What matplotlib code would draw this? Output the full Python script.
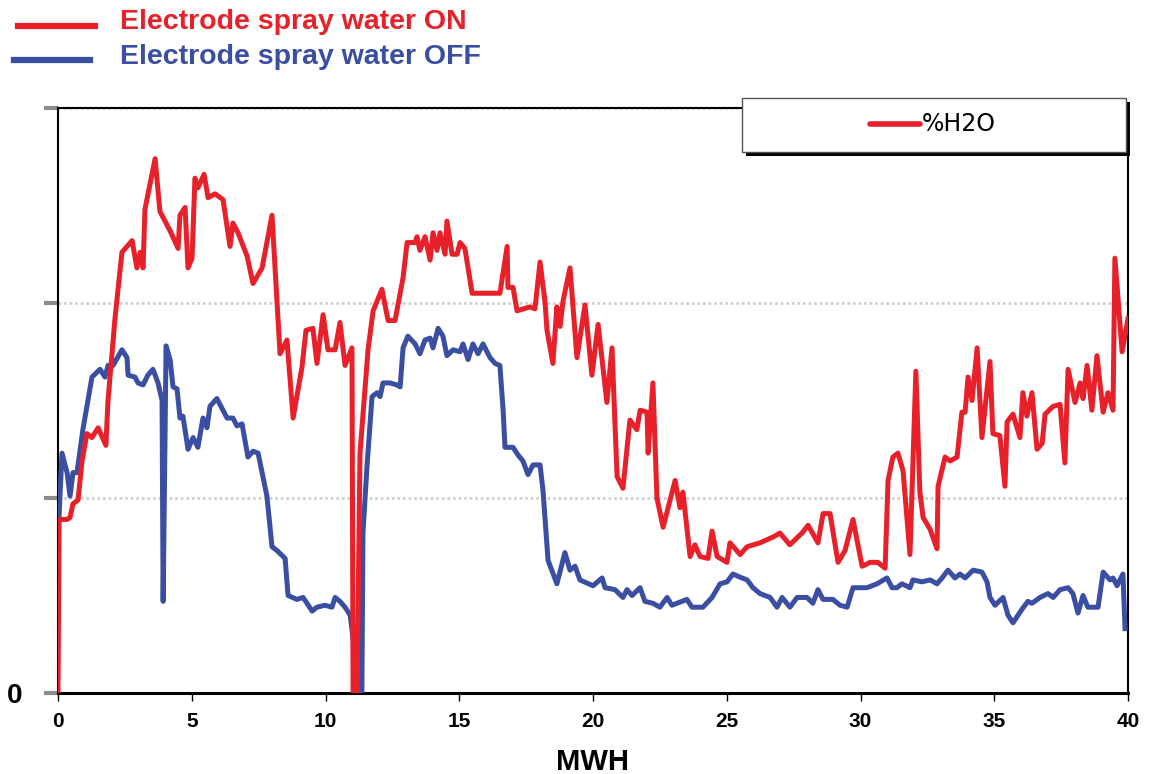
import matplotlib
matplotlib.use("Agg")
import matplotlib.pyplot as plt
from matplotlib.lines import Line2D
from matplotlib.patches import Rectangle

plt.rcParams['font.family'] = ['Liberation Sans', 'DejaVu Sans']

# spray water ON (red)
on_mwh = [0, 0.04, 0.34, 0.45, 0.56, 0.75, 0.90, 1.08, 1.27, 1.50,
          1.79, 1.87, 2.13, 2.39, 2.77, 2.95, 3.07, 3.18, 3.25, 3.63,
          3.81, 4.19, 4.49, 4.56, 4.75, 4.86, 5.01, 5.12, 5.23, 5.46,
          5.61, 5.87, 6.17, 6.43, 6.54, 6.73, 7.07, 7.29, 7.63, 8.00,
          8.30, 8.56, 8.79, 9.12, 9.27, 9.53, 9.68, 9.91, 10.09, 10.36,
          10.54, 10.73, 10.99, 11.03, 11.18, 11.29, 11.59, 11.78, 12.11, 12.34,
          12.60, 12.90, 13.05, 13.35, 13.42, 13.53, 13.72, 13.91, 14.02, 14.17,
          14.28, 14.47, 14.54, 14.73, 14.92, 15.03, 15.21, 15.33, 15.48, 16.52,
          16.79, 16.82, 17.01, 17.16, 17.64, 17.83, 18.02, 18.21, 18.28, 18.50,
          18.65, 18.77, 18.88, 19.14, 19.40, 19.70, 19.96, 20.19, 20.52, 20.71,
          20.90, 21.12, 21.38, 21.64, 21.76, 22.02, 22.06, 22.24, 22.39, 22.62,
          23.07, 23.25, 23.36, 23.63, 23.81, 24.00, 24.30, 24.45, 24.64, 25.01,
          25.12, 25.50, 25.76, 26.24, 26.73, 26.99, 27.36, 27.81, 28.04, 28.41,
          28.60, 28.86, 29.16, 29.42, 29.72, 30.06, 30.36, 30.65, 30.92, 31.03,
          31.21, 31.40, 31.59, 31.85, 32.07, 32.22, 32.34, 32.60, 32.86, 32.90,
          33.16, 33.35, 33.61, 33.79, 33.91, 34.02, 34.17, 34.36, 34.54, 34.84,
          34.95, 35.21, 35.40, 35.48, 35.70, 35.96, 36.07, 36.22, 36.41, 36.60,
          36.79, 36.90, 37.20, 37.46, 37.64, 37.76, 38.02, 38.21, 38.32, 38.47,
          38.65, 38.84, 39.07, 39.25, 39.44, 39.51, 39.78, 40.00]
on_h2o = [0, 0.89, 0.89, 0.90, 0.97, 0.99, 1.19, 1.33, 1.31, 1.36,
          1.27, 1.50, 1.92, 2.26, 2.32, 2.18, 2.26, 2.18, 2.48, 2.74,
          2.47, 2.37, 2.28, 2.45, 2.49, 2.18, 2.23, 2.64, 2.59, 2.66,
          2.54, 2.56, 2.53, 2.29, 2.41, 2.36, 2.24, 2.10, 2.18, 2.45,
          1.74, 1.81, 1.41, 1.67, 1.86, 1.87, 1.69, 1.94, 1.76, 1.76,
          1.90, 1.68, 1.77, 0, 0, 1.23, 1.76, 1.96, 2.07, 1.91,
          1.91, 2.13, 2.31, 2.31, 2.34, 2.27, 2.34, 2.22, 2.36, 2.27,
          2.36, 2.25, 2.42, 2.25, 2.25, 2.31, 2.28, 2.18, 2.05, 2.05,
          2.29, 2.08, 2.08, 1.96, 1.98, 1.97, 2.21, 2.00, 1.86, 1.69,
          1.98, 1.88, 2.01, 2.18, 1.72, 1.99, 1.63, 1.89, 1.49, 1.77,
          1.11, 1.05, 1.40, 1.35, 1.45, 1.44, 1.23, 1.59, 1.00, 0.85,
          1.09, 0.95, 1.03, 0.70, 0.76, 0.70, 0.69, 0.83, 0.70, 0.67,
          0.77, 0.71, 0.75, 0.77, 0.80, 0.82, 0.76, 0.82, 0.86, 0.77,
          0.92, 0.92, 0.67, 0.73, 0.89, 0.65, 0.67, 0.67, 0.64, 1.09,
          1.21, 1.23, 1.14, 0.71, 1.65, 1.03, 0.90, 0.84, 0.74, 1.06,
          1.21, 1.19, 1.21, 1.44, 1.44, 1.62, 1.50, 1.77, 1.31, 1.70,
          1.33, 1.32, 1.06, 1.39, 1.43, 1.31, 1.54, 1.42, 1.54, 1.25,
          1.28, 1.43, 1.47, 1.48, 1.18, 1.66, 1.49, 1.59, 1.51, 1.68,
          1.45, 1.73, 1.44, 1.54, 1.45, 2.23, 1.75, 1.92]

# spray water OFF (blue)
off_mwh = [0.04, 0.15, 0.34, 0.45, 0.56, 0.71, 0.93, 1.27, 1.57, 1.76,
           1.87, 2.06, 2.39, 2.58, 2.62, 2.88, 2.99, 3.18, 3.36, 3.55,
           3.74, 3.89, 3.93, 4.04, 4.19, 4.30, 4.45, 4.56, 4.67, 4.86,
           5.05, 5.23, 5.42, 5.57, 5.68, 5.94, 6.17, 6.32, 6.54, 6.69,
           6.88, 7.10, 7.29, 7.48, 7.81, 8.00, 8.19, 8.49, 8.60, 8.93,
           9.16, 9.31, 9.50, 9.68, 9.98, 10.24, 10.36, 10.54, 10.73, 10.92,
           11.29, 11.36, 11.40, 11.55, 11.74, 11.93, 12.04, 12.15, 12.41, 12.67,
           12.79, 12.90, 13.08, 13.35, 13.53, 13.72, 13.91, 14.02, 14.21, 14.39,
           14.54, 14.77, 15.03, 15.14, 15.33, 15.51, 15.70, 15.89, 16.15, 16.34,
           16.52, 16.64, 16.71, 17.01, 17.20, 17.38, 17.57, 17.76, 18.02, 18.13,
           18.32, 18.65, 18.95, 19.14, 19.33, 19.51, 20.00, 20.34, 20.45, 20.82,
           21.12, 21.27, 21.46, 21.76, 21.94, 22.24, 22.50, 22.77, 22.95, 23.51,
           23.70, 24.11, 24.45, 24.75, 25.01, 25.23, 25.57, 25.76, 25.98, 26.24,
           26.62, 26.88, 27.07, 27.36, 27.63, 28.00, 28.22, 28.41, 28.60, 28.97,
           29.23, 29.50, 29.72, 30.24, 30.62, 30.99, 31.18, 31.36, 31.55, 31.85,
           31.96, 32.30, 32.60, 32.86, 33.05, 33.27, 33.53, 33.72, 33.91, 34.21,
           34.54, 34.73, 34.84, 35.03, 35.33, 35.51, 35.70, 36.04, 36.26, 36.41,
           36.71, 37.01, 37.20, 37.46, 37.76, 37.94, 38.13, 38.32, 38.50, 38.88,
           39.07, 39.33, 39.44, 39.59, 39.81, 39.89]
off_h2o = [0.91, 1.23, 1.13, 1.01, 1.13, 1.13, 1.35, 1.62, 1.66, 1.62,
           1.68, 1.68, 1.76, 1.72, 1.63, 1.62, 1.59, 1.58, 1.63, 1.66,
           1.59, 1.50, 0.47, 1.78, 1.71, 1.57, 1.56, 1.41, 1.42, 1.25,
           1.31, 1.26, 1.41, 1.36, 1.47, 1.51, 1.45, 1.41, 1.41, 1.37,
           1.38, 1.21, 1.24, 1.23, 1.01, 0.75, 0.73, 0.69, 0.50, 0.48,
           0.49, 0.46, 0.42, 0.44, 0.45, 0.44, 0.49, 0.47, 0.44, 0.40,
           0, 0, 0.82, 1.16, 1.52, 1.54, 1.52, 1.59, 1.59, 1.58,
           1.57, 1.77, 1.83, 1.79, 1.74, 1.81, 1.82, 1.77, 1.87, 1.83,
           1.73, 1.76, 1.75, 1.79, 1.71, 1.79, 1.74, 1.79, 1.72, 1.69,
           1.68, 1.45, 1.26, 1.26, 1.22, 1.19, 1.12, 1.17, 1.17, 1.04,
           0.68, 0.56, 0.72, 0.63, 0.65, 0.58, 0.55, 0.59, 0.54, 0.53,
           0.49, 0.53, 0.50, 0.54, 0.47, 0.46, 0.44, 0.49, 0.45, 0.48,
           0.44, 0.44, 0.49, 0.56, 0.57, 0.61, 0.59, 0.58, 0.54, 0.51,
           0.49, 0.44, 0.49, 0.44, 0.49, 0.49, 0.46, 0.53, 0.48, 0.48,
           0.45, 0.44, 0.54, 0.54, 0.56, 0.59, 0.54, 0.54, 0.56, 0.54,
           0.58, 0.57, 0.58, 0.56, 0.59, 0.63, 0.59, 0.61, 0.59, 0.63,
           0.62, 0.57, 0.49, 0.45, 0.49, 0.40, 0.36, 0.43, 0.47, 0.46,
           0.49, 0.51, 0.49, 0.53, 0.54, 0.51, 0.41, 0.50, 0.44, 0.44,
           0.62, 0.58, 0.59, 0.55, 0.61, 0.33]

x_ticks = [0, 5, 10, 15, 20, 25, 30, 35, 40]
y_ticks = [0, 1, 2, 3]
y_labels = ['0', '', '', '']

RED = '#e8202a'
BLUE = '#3a4ea2'

W, H = 1150, 774
fig = plt.figure(figsize=(W / 100, H / 100), dpi=100)
ax = fig.add_axes([58 / W, 1 - 693 / H, 1070 / W, 585 / H])

ax.plot(off_mwh, off_h2o, color=BLUE, lw=3.6, solid_joinstyle='round', zorder=3)
ax.plot(on_mwh, on_h2o, color=RED, lw=3.6, solid_joinstyle='round', zorder=4)

ax.set_xlim(0, 40)
ax.set_ylim(0, 3)
ax.set_xticks(x_ticks)
ax.set_xticklabels([str(t) for t in x_ticks], fontsize=15, fontweight='bold')
ax.set_yticks(y_ticks)
ax.set_yticklabels(y_labels, fontsize=20, fontweight='bold')
ax.tick_params(axis='x', direction='out', length=6, width=1, pad=8)
ax.tick_params(axis='y', direction='out', length=10, width=3, color='#8c8c8c', pad=16)
ax.yaxis.grid(True, linestyle=(0, (1, 1)), color='#d0d0d0', lw=2)
ax.set_axisbelow(True)
ax.set_xlabel('MWH', fontsize=21, fontweight='bold', labelpad=12)

for side in ['left', 'right', 'top']:
    ax.spines[side].set_linewidth(1.5)
    ax.spines[side].set_color('black')
ax.spines['bottom'].set_linewidth(2.2)

# header legend
fig.add_artist(Line2D([18 / W, 95 / W], [1 - 26 / H] * 2, color=RED, lw=4.5))
fig.add_artist(Line2D([14 / W, 90 / W], [1 - 60 / H] * 2, color=BLUE, lw=4.5))
fig.text(120 / W, 1 - 22 / H, 'Electrode spray water ON', color=RED,
         fontsize=20.5, fontweight='bold', va='center', ha='left')
fig.text(120 / W, 1 - 57 / H, 'Electrode spray water OFF', color=BLUE,
         fontsize=20.5, fontweight='bold', va='center', ha='left')

# boxed series legend with shadow
fig.add_artist(Rectangle((746 / W, 1 - 156 / H), 384 / W, 54 / H,
                         transform=fig.transFigure, facecolor='black',
                         edgecolor='none', zorder=5))
fig.add_artist(Rectangle((742 / W, 1 - 152 / H), 384 / W, 54 / H,
                         transform=fig.transFigure, facecolor='white',
                         edgecolor='#555555', lw=1, zorder=6))
fig.add_artist(Line2D([870 / W, 920 / W], [1 - 124 / H] * 2, color=RED,
                      lw=4, solid_capstyle='round', zorder=7))
fig.text(922 / W, 1 - 124 / H, '%H2O', fontsize=17, family='DejaVu Sans',
         va='center', ha='left', zorder=7)

fig.savefig('out.png', dpi=100)
